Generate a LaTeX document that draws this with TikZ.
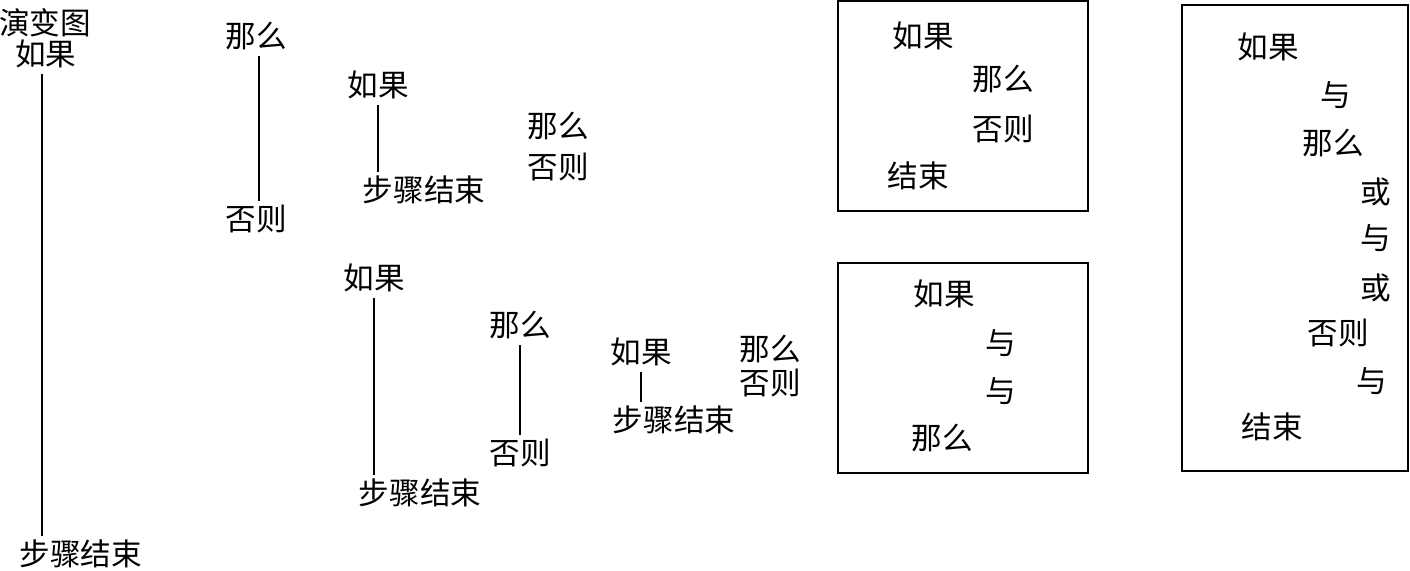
\documentclass[tikz,border=0pt]{standalone}
\usepackage{fontspec}
\newfontfamily\cjk{Noto Sans CJK SC}
\begin{document}
\begin{tikzpicture}[x=0.5pt,y=-0.5pt,
  lbl/.style={font=\fontsize{15.3pt}{18pt}\cjk, inner sep=2pt, text height=13pt, text depth=2pt},
  conn/.style={line width=1pt},
  frame/.style={line width=1pt}]
\useasboundingbox (0,0) rectangle (1410,571);
% column 1
\node[lbl] (t0) at (45,24) {演变图};
\node[lbl] (a1) at (46,55) {如果};
\node[lbl] (a2) at (81,555) {步骤结束};
\draw[conn] ([xshift=-2pt]a1.south) -- ([xshift=-2pt]a1.south |- a2.north);
% column 2
\node[lbl] (b1) at (256,37) {那么};
\node[lbl] (b2) at (256,220) {否则};
\draw[conn] ([xshift=1.5pt]b1.south) -- ([xshift=1.5pt]b2.north);
% column 3 top
\node[lbl] (c1) at (378,86) {如果};
\node[lbl] (c2) at (424,191) {步骤结束};
\draw[conn] (c1.south) -- (c1.south |- c2.north);
\node[lbl] (c3) at (558,127) {那么};
\node[lbl] (c4) at (558,168) {否则};
% column 3 bottom
\node[lbl] (d1) at (374,279) {如果};
\node[lbl] (d2) at (420,494) {步骤结束};
\draw[conn] (d1.south) -- (d1.south |- d2.north);
\node[lbl] (d3) at (520,326) {那么};
\node[lbl] (d4) at (520,454) {否则};
\draw[conn] (d3.south) -- (d4.north);
\node[lbl] (e1) at (641,353) {如果};
\node[lbl] (e2) at (674,421) {步骤结束};
\draw[conn] (e1.south) -- (e1.south |- e2.north);
\node[lbl] (e3) at (770,350) {那么};
\node[lbl] (e4) at (770,384) {否则};
% box 1
\draw[frame] (838,1) rectangle (1088,211);
\node[lbl] (f1) at (923,37) {如果};
\node[lbl] (f2) at (1003,80) {那么};
\node[lbl] (f3) at (1003,130) {否则};
\node[lbl] (f4) at (918,177) {结束};
% box 2
\draw[frame] (838,263) rectangle (1088,473);
\node[lbl] (g1) at (944,295) {如果};
\node[lbl] (g2) at (1001,344) {与};
\node[lbl] (g3) at (1001,392) {与};
\node[lbl] (g4) at (942,439) {那么};
% box 3
\draw[frame] (1182,5) rectangle (1408,471);
\node[lbl] (h1) at (1268,48) {如果};
\node[lbl] (h2) at (1336,96) {与};
\node[lbl] (h3) at (1333,144) {那么};
\node[lbl] (h4) at (1376,193) {或};
\node[lbl] (h5) at (1376,239) {与};
\node[lbl] (h6) at (1376,289) {或};
\node[lbl] (h7) at (1338,334) {否则};
\node[lbl] (h8) at (1372,382) {与};
\node[lbl] (h9) at (1272,428) {结束};
\end{tikzpicture}
\end{document}
